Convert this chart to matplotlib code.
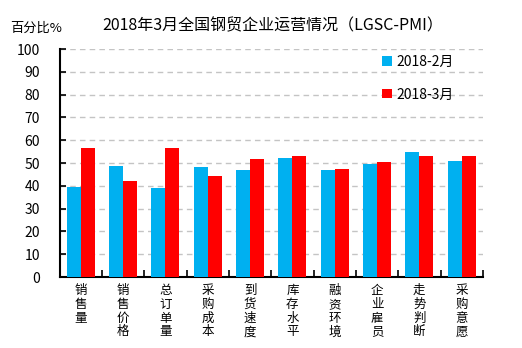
import numpy as np
import matplotlib.pyplot as plt

plt.rcParams['font.family'] = ['Noto Sans CJK SC', 'DejaVu Sans']

categories = ['销售量', '销售价格', '总订单量', '采购成本', '到货速度',
              '库存水平', '融资环境', '企业雇员', '走势判断', '采购意愿']
feb = [39.6, 48.8, 39.1, 48.3, 47.0, 52.3, 47.0, 49.6, 54.9, 50.9]
mar = [56.6, 42.2, 56.6, 44.4, 51.8, 53.1, 47.4, 50.5, 53.1, 53.1]
series_labels = ['2018-2月', '2018-3月']

fig = plt.figure(figsize=(5.22, 3.48), dpi=100)
ax = fig.add_axes([0.114, 0.204, 0.811, 0.655])

x = np.arange(len(categories))
w = 0.33
ax.bar(x - w / 2, feb, w, color='#00B0F0', label=series_labels[0], zorder=3)
ax.bar(x + w / 2, mar, w, color='#FF0000', label=series_labels[1], zorder=3)

ax.set_xlim(-0.5, len(categories) - 0.5)
ax.set_ylim(0, 100)
ax.set_yticks(np.arange(0, 101, 10))
ax.yaxis.grid(True, linestyle=(0, (4, 3)), color='#c4c4c4', linewidth=1, zorder=0)

# category labels written top-to-bottom, tick marks sit between groups
ax.set_xticks(np.arange(-0.5, len(categories)), labels=[])
ax.set_xticks(x, labels=['\n'.join(c) for c in categories], minor=True)
ax.tick_params(axis='x', which='major', direction='in', length=5, width=1.2)
ax.tick_params(axis='x', which='minor', length=0, pad=5, labelsize=9)
for t in ax.get_xticklabels(minor=True):
    t.set_linespacing(1.08)
    t.set_verticalalignment('top')
ax.tick_params(axis='y', direction='in', length=4, width=1.2, labelsize=10, pad=14)

for s in ['top', 'right']:
    ax.spines[s].set_visible(False)
for s in ['left', 'bottom']:
    ax.spines[s].set_linewidth(1.5)

ax.legend(loc='upper left', bbox_to_anchor=(0.733, 1.03), frameon=False,
          fontsize=10, handlelength=0.7, handleheight=0.7, handletextpad=0.3,
          labelspacing=1.35)

fig.text(0.523, 0.925, '2018年3月全国钢贸企业运营情况（LGSC-PMI）',
         ha='center', va='center', fontsize=11.5)
fig.text(0.019, 0.918, '百分比%', ha='left', va='center', fontsize=9.5)

fig.savefig('out.png', dpi=100)
